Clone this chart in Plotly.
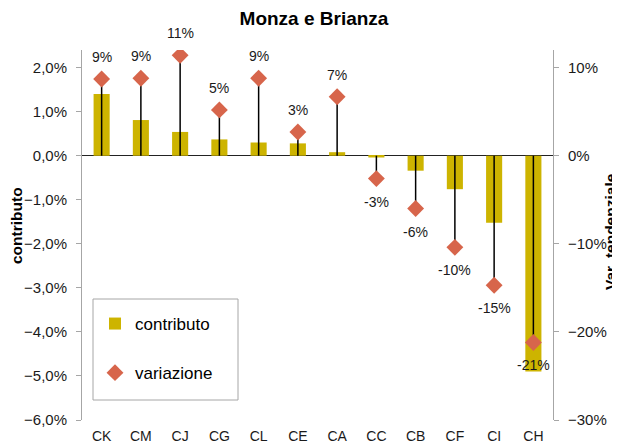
import plotly.graph_objects as go

categories = ["CK", "CM", "CJ", "CG", "CL", "CE", "CA", "CC", "CB", "CF", "CI", "CH"]
contributo = [1.40, 0.81, 0.54, 0.37, 0.30, 0.28, 0.08, -0.04, -0.34, -0.76, -1.52, -4.90]
variazione = [8.7, 8.8, 11.4, 5.2, 8.8, 2.7, 6.7, -2.6, -6.0, -10.4, -14.7, -21.2]
var_labels = ["9%", "9%", "11%", "5%", "9%", "3%", "7%", "-3%", "-6%", "-10%", "-15%", "-21%"]

BAR_COLOR = "#CDB400"
MARK_COLOR = "#D7654B"
AXIS_GRAY = "#A6A6A6"
FONT = "Liberation Sans, Arial, sans-serif"

# figure is drawn 8px in from the page corner (default body margin)
W, H = 612, 440
L, R, T, B = 74, 67, 42, 28
PW, PH = W - L - R, H - T - B


def px(xf):   # figure-pixel x -> paper x
    return (xf - L) / PW


def py(yf):   # figure-pixel y (from top) -> paper y
    return (H - B - yf) / PH


fig = go.Figure()

fig.add_trace(go.Bar(
    x=categories, y=contributo, name="contributo",
    marker=dict(color=BAR_COLOR, line=dict(width=0)),
    legendgroup="a", yaxis="y",
))

# drop lines from zero to each variazione point
lx, ly = [], []
for c, v in zip(categories, variazione):
    lx += [c, c, None]
    ly += [0, v, None]
fig.add_trace(go.Scatter(
    x=lx, y=ly, mode="lines", line=dict(color="black", width=1.5),
    showlegend=False, yaxis="y2", hoverinfo="skip",
))

fig.add_trace(go.Scatter(
    x=categories, y=variazione, name="variazione", mode="markers",
    marker=dict(symbol="diamond", size=13, color=MARK_COLOR),
    legendgroup="b", yaxis="y2",
))

for c, v, t in zip(categories, variazione, var_labels):
    fig.add_annotation(
        x=c, y=v, xref="x", yref="y2", text=t, showarrow=False,
        yshift=22 if v >= 0 else -23,
        font=dict(family=FONT, size=14, color="#1a1a1a"),
    )

# axis titles
fig.add_annotation(
    x=px(8), y=py(218), xref="paper", yref="paper", text="<b>contributo</b>",
    textangle=-90, showarrow=False, xanchor="center", yanchor="middle",
    font=dict(family=FONT, size=15.5, color="black"),
)
fig.add_annotation(
    x=px(602), y=py(224), xref="paper", yref="paper", text="<b>Var. tendenziale</b>",
    textangle=-90, showarrow=False, xanchor="center", yanchor="middle",
    font=dict(family=FONT, size=15.5, color="black"),
)

# legend frame
fig.add_shape(type="rect", xref="paper", yref="paper",
              x0=px(85), x1=px(230), y0=py(392), y1=py(291),
              line=dict(color=AXIS_GRAY, width=1), fillcolor="white", layer="below")

fig.update_layout(
    width=W, height=H,
    margin=dict(l=L, r=R, t=T, b=B, autoexpand=False),
    paper_bgcolor="white", plot_bgcolor="rgba(0,0,0,0)",
    separators=",.",
    font=dict(family=FONT, size=14, color="#1a1a1a"),
    title=dict(text="<b>Monza e Brianza</b>", x=0.5, xanchor="center",
               y=1 - 10 / H, yanchor="middle",
               font=dict(family=FONT, size=19, color="black")),
    bargap=0.59,
    xaxis=dict(range=[-0.5, len(categories) - 0.5], showline=False, ticks="",
               showgrid=False, tickfont=dict(size=14), ticklabelstandoff=6),
    yaxis=dict(range=[-6, 2.4], dtick=1, tick0=0, tickformat=".1f", ticksuffix="%",
               showline=True, linecolor=AXIS_GRAY, linewidth=1,
               ticks="outside", ticklen=5, tickcolor=AXIS_GRAY, ticklabelstandoff=6,
               tickfont=dict(size=15),
               showgrid=False, zeroline=True, zerolinecolor="#222222", zerolinewidth=1),
    yaxis2=dict(range=[-30, 12], dtick=10, tick0=0, tickformat=".0f", ticksuffix="%",
                overlaying="y", side="right",
                showline=True, linecolor=AXIS_GRAY, linewidth=1,
                ticks="outside", ticklen=5, tickcolor=AXIS_GRAY, ticklabelstandoff=6,
                tickfont=dict(size=15),
                showgrid=False, zeroline=False),
    legend=dict(x=px(87), y=py(298), xanchor="left", yanchor="top",
                borderwidth=0, bgcolor="rgba(0,0,0,0)",
                tracegroupgap=24, traceorder="grouped",
                font=dict(family=FONT, size=17, color="black"),
                itemwidth=30),
    showlegend=True,
)

fig.write_html("out.html")
